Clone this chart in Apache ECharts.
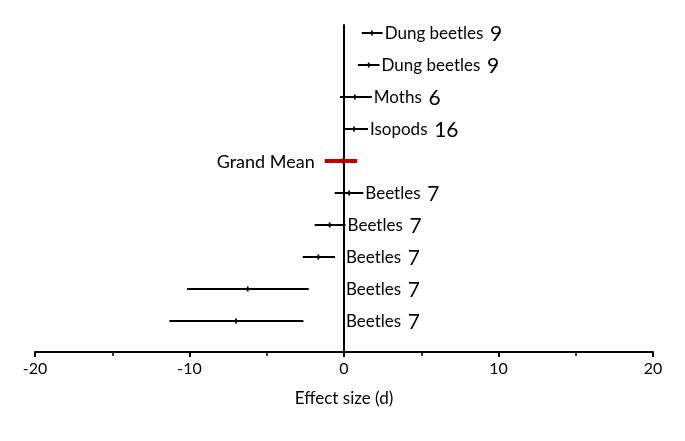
<!DOCTYPE html>
<html><head><meta charset="utf-8">
<script src="https://cdn.jsdelivr.net/npm/echarts@6/dist/echarts.min.js"></script>
<style>html,body{margin:0;padding:0;background:#fff}#c{width:685px;height:441px}</style>
</head><body><div id="c"></div>
<script>
var names = ['Dung beetles','Dung beetles','Moths','Isopods','Grand Mean','Beetles','Beetles','Beetles','Beetles','Beetles'];
var counts = ['9','9','6','16','','7','7','7','7','7'];
var means = [1.8, 1.6, 0.7, 0.65, -0.1, 0.33, -0.93, -1.66, -6.23, -6.99];
var lows = [1.15, 0.9, -0.26, 0.0, -1.25, -0.6, -1.9, -2.67, -10.16, -11.3];
var highs = [2.5, 2.3, 1.8, 1.55, 0.85, 1.25, 0.1, -0.58, -2.28, -2.63];
var grandIndex = 4;

var data = names.map(function(n,i){ return [i, lows[i], means[i], highs[i]]; });
var FONT = 'Lato';
var chart = echarts.init(document.getElementById('c'));
chart.setOption({
  animation:false,
  grid:{left:35,right:32,top:25,bottom:89},
  xAxis:{type:'value',min:-20,max:20,interval:10,
    axisLine:{onZero:false,lineStyle:{color:'#000',width:2}},
    axisTick:{show:true,inside:false,length:5,lineStyle:{color:'#000',width:2}},
    minorTick:{show:true,splitNumber:2,length:4,lineStyle:{color:'#000',width:1.5}},
    splitLine:{show:false},
    axisLabel:{color:'#000',fontFamily:FONT,fontSize:16,margin:9},
    name:'Effect size (d)',nameLocation:'middle',nameGap:38,
    nameTextStyle:{color:'#000',fontFamily:FONT,fontSize:17}},
  yAxis:{type:'value',min:-0.25,max:9.97,inverse:true,
    axisLine:{show:true,onZero:true,lineStyle:{color:'#000',width:2}},
    axisTick:{show:false},axisLabel:{show:false},splitLine:{show:false}},
  series:[{
    type:'custom',
    data:data,
    renderItem:function(params,api){
      var i=api.value(0);
      var lo=api.coord([api.value(1),i]);
      var me=api.coord([api.value(2),i]);
      var hi=api.coord([api.value(3),i]);
      var zero=api.coord([0,i]);
      var grand = i===grandIndex;
      var children=[
        {type:'line',shape:{x1:lo[0],y1:lo[1],x2:hi[0],y2:hi[1]},
          style:{stroke:grand?'#c00000':'#000',lineWidth:grand?4:2}},
        {type:'line',shape:{x1:me[0],y1:me[1]-2.5,x2:me[0],y2:me[1]+2.5},
          style:{stroke:grand?'#7a0000':'#000',lineWidth:1.8}}
      ];
      if(grand){
        children.push({type:'text',style:{x:lo[0]-10,y:lo[1]+1,text:names[i],
          align:'right',verticalAlign:'middle',fill:'#000',font:'18px '+FONT}});
      } else {
        var lx=Math.max(hi[0],zero[0])+2;
        children.push({type:'text',style:{x:lx,y:lo[1]+1,
          text:'{a|'+names[i]+'}  {b|'+counts[i]+'}',align:'left',verticalAlign:'middle',
          rich:{a:{fontFamily:FONT,fontSize:17,fill:'#000',color:'#000'},
                b:{fontFamily:FONT,fontSize:21,fill:'#000',color:'#000'}}}});
      }
      return {type:'group',children:children};
    }
  }]
});
</script></body></html>
